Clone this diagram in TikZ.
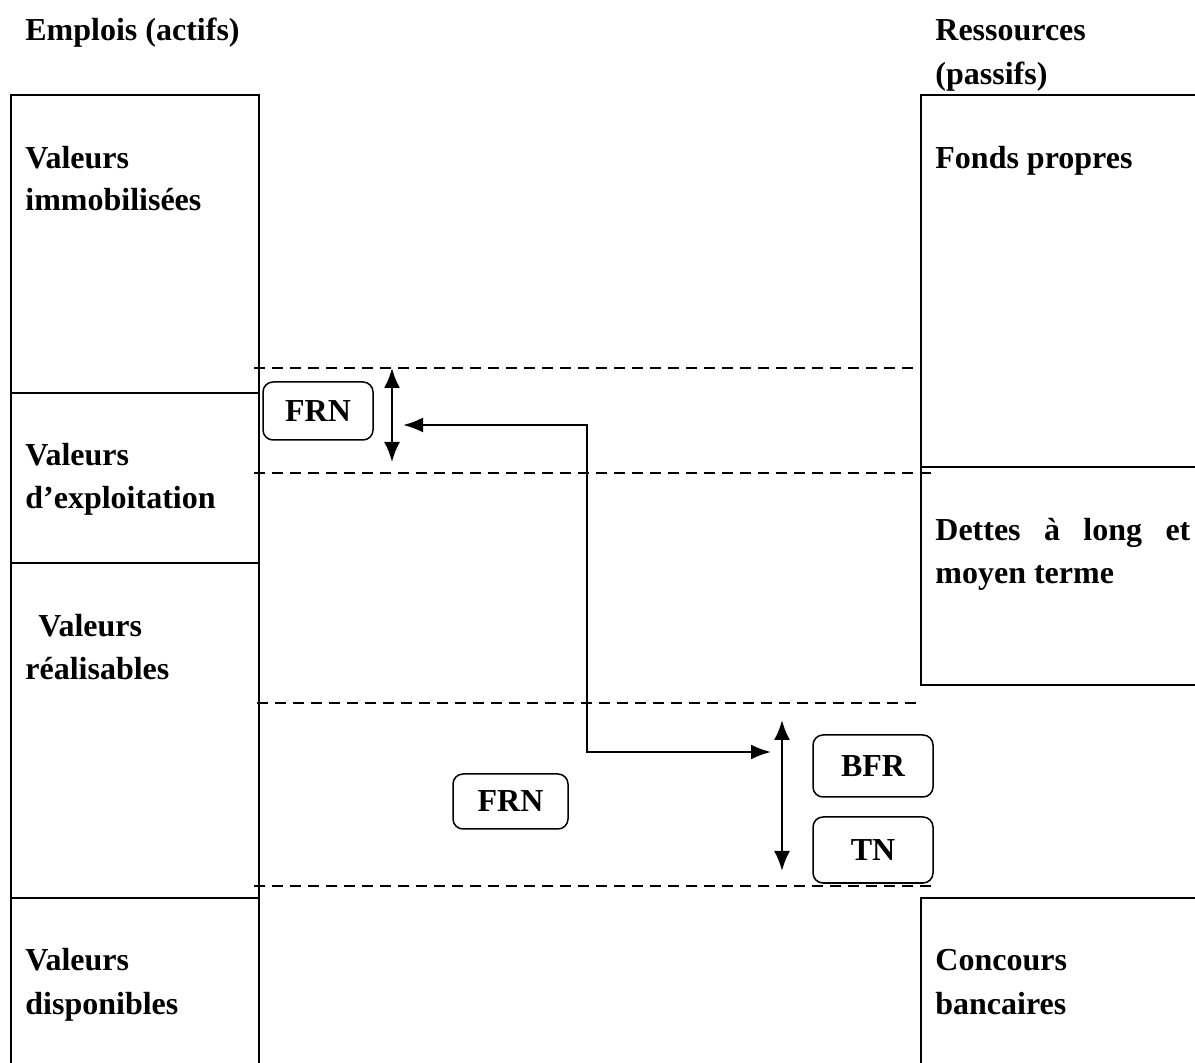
\documentclass[tikz,border=0pt]{standalone}
\usepackage{fontspec}
\setmainfont{Liberation Serif}
\usetikzlibrary{arrows.meta}
\begin{document}
\begin{tikzpicture}[x=0.5pt,y=-0.5pt,
  frame/.style={line width=1.2pt},
  level/.style={line width=1.2pt,dash pattern=on 5.5pt off 3.5pt},
  txt/.style={anchor=base west,inner sep=0pt,font=\fontsize{16}{21.5}\selectfont\bfseries},
  tag/.style={draw,rounded corners=5pt,line width=0.75pt,inner sep=0pt,
              font=\fontsize{16}{21.5}\selectfont\bfseries},
  span/.style={line width=1.2pt,{Latex[length=10pt,width=8pt]}-{Latex[length=10pt,width=8pt]}},
  link/.style={line width=1.2pt,{Latex[length=10pt,width=7.5pt]}-{Latex[length=10pt,width=7.5pt]}}]
\useasboundingbox (0,0) rectangle (1195,1063);

% column headings
\node[txt] (hL) at (25,41) {Emplois (actifs)};
\node[txt] (hR1) at (935,41) {Ressources};
\node[txt] (hR2) at (935,85) {(passifs)};

% assets column
\draw[frame] (11,1064) -- (11,95) -- (259,95) -- (259,1064);
\draw[frame] (11,393) -- (259,393);
\draw[frame] (11,563) -- (259,563);
\draw[frame] (11,898) -- (259,898);

% liabilities column
\draw[frame] (1196,95) -- (921,95) -- (921,685) -- (1196,685);
\draw[frame] (921,467) -- (1196,467);
\draw[frame] (1196,898) -- (921,898) -- (921,1064);

% asset labels
\node[txt] (vi1) at (25,169) {Valeurs};
\node[txt] (vi2) at (25,211) {immobilisées};
\node[txt] (ve1) at (25,466) {Valeurs};
\node[txt] (ve2) at (25,509) {d’exploitation};
\node[txt] (vr1) at (38,637) {Valeurs};
\node[txt] (vr2) at (25,680) {réalisables};
\node[txt] (vd1) at (25,971) {Valeurs};
\node[txt] (vd2) at (25,1014) {disponibles};

% liability labels
\node[txt] (fp) at (935,169) {Fonds propres};
\node[txt] (dl1) at (935,541) {\makebox[127.5pt][s]{Dettes à long et}};
\node[txt] (dl2) at (935,584) {moyen terme};
\node[txt] (cb1) at (935,971) {Concours};
\node[txt] (cb2) at (935,1014) {bancaires};

% level lines
\draw[level] (254,368) -- (918,368);
\draw[level] (254,473) -- (933,473);
\draw[level] (257,703) -- (918,703);
\draw[level] (254,886) -- (933,886);

% tags
\node[tag,minimum width=55pt,minimum height=29pt] (frnA) at (318,411) {FRN};
\node[tag,minimum width=57.5pt,minimum height=27.5pt] (frnB) at (510.5,801.5) {FRN};
\node[tag,minimum width=60pt,minimum height=31pt] (bfr) at (873,766) {BFR};
\node[tag,minimum width=60pt,minimum height=33pt] (tn) at (873,850) {TN};

% spans between levels
\coordinate (sA1) at (392,368);
\coordinate (sA2) at (392,462);
\coordinate (sB1) at (782,720);
\coordinate (sB2) at (782,871);
\draw[span] (sA1) -- (sA2);
\draw[span] (sB1) -- (sB2);

% link between the two spans
\coordinate (lA) at (403,425);
\coordinate (lB) at (771,752);
\draw[link] (lA) -- (587,425) -- (587,752) -- (lB);
\end{tikzpicture}
\end{document}
